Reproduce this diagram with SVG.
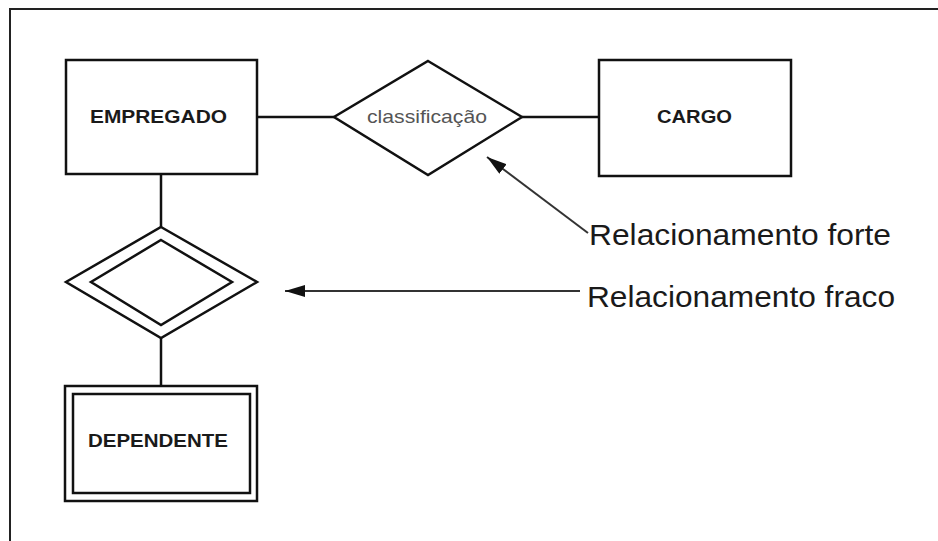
<svg xmlns="http://www.w3.org/2000/svg" width="938" height="541" viewBox="0 0 938 541">
  <defs>
    <style>
      .shape { fill: #ffffff; stroke: #111111; stroke-width: 2.5; stroke-linejoin: miter; }
      .link { fill: none; stroke: #111111; stroke-width: 2.5; }
      .pointer { fill: none; stroke: #333333; stroke-width: 2; }
      .entity { font-family: "Liberation Sans", Arial, sans-serif; font-weight: bold; font-size: 19px; fill: #1a1a1a; }
      .rel { font-family: "Liberation Sans", Arial, sans-serif; font-size: 19px; fill: #555555; }
      .note { font-family: "Liberation Sans", Arial, sans-serif; font-size: 30px; fill: #1a1a1a; }
    </style>
    <marker id="arrow" viewBox="0 0 20 12" refX="20" refY="6" markerWidth="20" markerHeight="12" markerUnits="userSpaceOnUse" orient="auto">
      <path d="M0,0 L20,6 L0,12 Z" fill="#111111"/>
    </marker>
  </defs>

  <rect width="938" height="541" fill="#ffffff"/>
  <!-- page frame (top and left edges) -->
  <path d="M10,541 L10,9 L938,9" fill="none" stroke="#222222" stroke-width="2"/>

  <g id="connectors">
    <line class="link" x1="257" y1="117" x2="334" y2="117"/>
    <line class="link" x1="522" y1="117" x2="599" y2="117"/>
    <line class="link" x1="161" y1="174" x2="161" y2="227"/>
    <line class="link" x1="161" y1="338" x2="161" y2="386"/>
    <line class="pointer" x1="588" y1="233" x2="487" y2="157" marker-end="url(#arrow)"/>
    <line class="pointer" x1="580" y1="291" x2="285" y2="291" marker-end="url(#arrow)"/>
  </g>

  <g id="empregado">
    <rect class="shape" x="66" y="60" width="191" height="114"/>
    <text class="entity" x="90" y="123" textLength="137" lengthAdjust="spacingAndGlyphs">EMPREGADO</text>
  </g>

  <g id="classificacao">
    <polygon class="shape" points="428,61 522,117 428,175 334,117"/>
    <text class="rel" x="367" y="123" textLength="120" lengthAdjust="spacingAndGlyphs">classificação</text>
  </g>

  <g id="cargo">
    <rect class="shape" x="599" y="60" width="192" height="116"/>
    <text class="entity" x="657" y="123" textLength="75" lengthAdjust="spacingAndGlyphs">CARGO</text>
  </g>

  <g id="relacionamento-fraco">
    <polygon class="shape" points="161,227 257,282 161,338 66,282"/>
    <polygon class="shape" points="161,240 232,282 161,325 91,282"/>
  </g>

  <g id="dependente">
    <rect class="shape" x="65" y="386" width="192" height="115"/>
    <rect class="shape" x="73" y="394" width="177" height="99"/>
    <text class="entity" x="88" y="447" textLength="140" lengthAdjust="spacingAndGlyphs">DEPENDENTE</text>
  </g>

  <g id="legenda-forte">
    <text class="note" x="589" y="245" textLength="302" lengthAdjust="spacingAndGlyphs">Relacionamento forte</text>
  </g>

  <g id="legenda-fraco">
    <text class="note" x="587" y="307" textLength="308" lengthAdjust="spacingAndGlyphs">Relacionamento fraco</text>
  </g>
</svg>
